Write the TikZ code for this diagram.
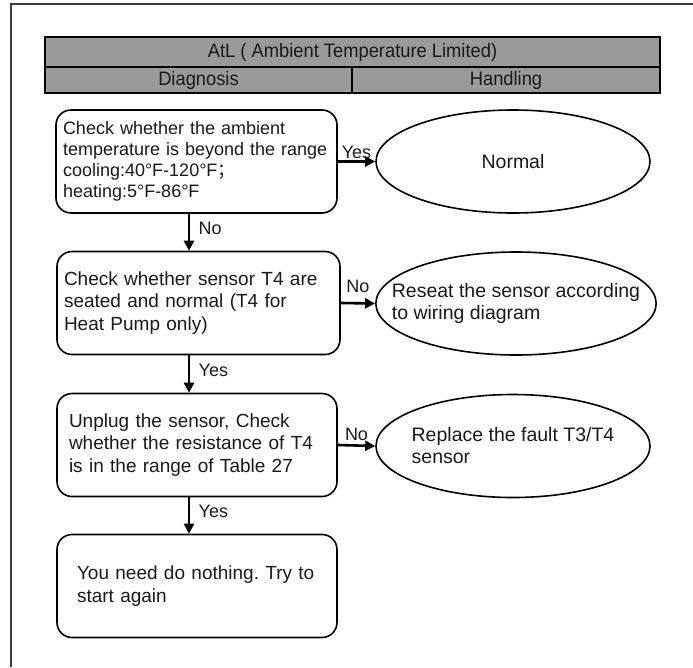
\documentclass[tikz,border=0pt]{standalone}
\usepackage{fontspec}
\setmainfont{Liberation Sans}
\newfontfamily\hdrfont[FakeStretch=0.94]{Liberation Sans}
\newfontfamily\cjk{Noto Sans CJK SC}
\usetikzlibrary{shapes.geometric,arrows.meta}

\definecolor{headgray}{RGB}{154,154,154}
\definecolor{framegray}{RGB}{60,60,60}
\frenchspacing

\begin{document}
\begin{tikzpicture}[x=1pt,y=-1pt,
  every node/.style={font=\fontsize{18}{21.5}\selectfont, text=black!90},
  hdr/.style={draw, line width=2.5pt, fill=headgray, inner sep=0pt,
    font=\hdrfont\fontsize{19.5}{20}\selectfont},
  stepbox/.style={draw, line width=1.6pt, rounded corners=15pt, align=left,
    minimum height=103pt, text width=267pt, inner xsep=7pt,
    font=\fontsize{19}{22.5}\selectfont},
  handle/.style={ellipse, draw, line width=1.6pt, align=left,
    minimum width=274pt, minimum height=103pt,
    font=\fontsize{19.5}{22}\selectfont},
  flow/.style={line width=2.6pt, -{Triangle[length=10pt,width=10pt]}},
  downlbl/.style={pos=0.4, right, xshift=5pt}]

\useasboundingbox (0,0) rectangle (693,667);

% Frame
\draw[framegray, line width=1.2pt] (693,4) -- (11,4) -- (11,667);

% Header
\node[hdr, minimum width=615pt, minimum height=30pt] (title) at (352.5,52) {AtL ( Ambient Temperature Limited)};
\node[hdr, minimum width=307pt, minimum height=26pt] (diag) at (198.5,80) {Diagnosis};
\node[hdr, minimum width=308pt, minimum height=26pt] (handl) at (506,80) {Handling};

% Diagnosis steps
\node[stepbox, font=\fontsize{18}{21}\selectfont] (ambient) at (196.5,161.5) {Check whether the ambient\\temperature is beyond the range\\cooling:40°F-120°F{\cjk ；}\\heating:5°F-86°F};
\node[stepbox, text width=269pt] (seated) at (198.5,303) {Check whether sensor T4 are\\seated and normal (T4 for\\Heat Pump only)};
\node[stepbox, text width=256pt, inner xsep=12pt] (resist) at (197,445) {Unplug the sensor, Check\\whether the resistance of T4\\is in the range of Table 27};
\node[stepbox, text width=240pt, inner xsep=20pt] (again) at (197,586) {You need do nothing. Try to\\start again};

% Handling
\node[handle] (normal) at (513,161.5) {Normal};
\node[handle, inner xsep=-25pt] (reseat) at (516,303.5) {Reseat the sensor according\\to wiring diagram};
\node[handle, inner xsep=-8pt] (replace) at (513,446) {Replace the fault T3/T4\\sensor};

% Arrows
\coordinate (spine) at (189,0);
\draw[flow] (ambient.east) -- (normal.west) node[midway, above, inner sep=2pt] {Yes};
\draw[flow] (ambient.south -| spine) -- (seated.north -| spine) node[downlbl] {No};
\draw[flow] (seated.east) -- (reseat.west) node[midway, above, inner sep=9pt] {No};
\draw[flow] (seated.south -| spine) -- (resist.north -| spine) node[downlbl] {Yes};
\draw[flow] (resist.east) -- (replace.west) node[midway, above, inner sep=4pt] {No};
\draw[flow] (resist.south -| spine) -- (again.north -| spine) node[downlbl] {Yes};

\end{tikzpicture}
\end{document}
